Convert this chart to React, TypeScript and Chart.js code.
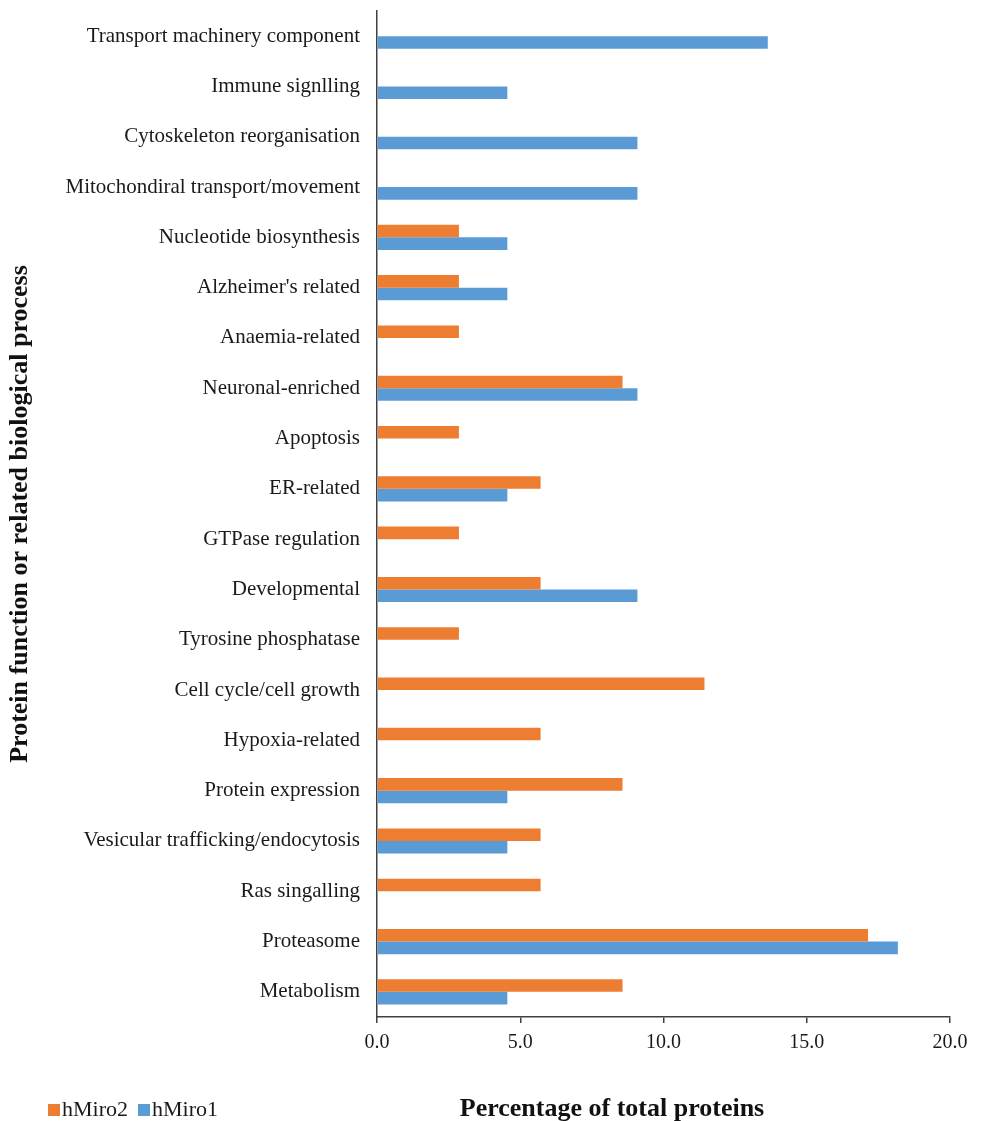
import React, { useEffect, useRef } from "react";
import { Chart, registerables } from "chart.js";

Chart.register(...registerables);

const categories = [
  "Transport machinery component",
  "Immune signlling",
  "Cytoskeleton reorganisation",
  "Mitochondiral transport/movement",
  "Nucleotide biosynthesis",
  "Alzheimer's related",
  "Anaemia-related",
  "Neuronal-enriched",
  "Apoptosis",
  "ER-related",
  "GTPase regulation",
  "Developmental",
  "Tyrosine phosphatase",
  "Cell cycle/cell growth",
  "Hypoxia-related",
  "Protein expression",
  "Vesicular trafficking/endocytosis",
  "Ras singalling",
  "Proteasome",
  "Metabolism",
];

const hMiro2 = [0, 0, 0, 0, 2.86, 2.86, 2.86, 8.57, 2.86, 5.71, 2.86, 5.71, 2.86, 11.43, 5.71, 8.57, 5.71, 5.71, 17.14, 8.57];
const hMiro1 = [13.64, 4.55, 9.09, 9.09, 4.55, 4.55, 0, 9.09, 0, 4.55, 0, 9.09, 0, 0, 0, 4.55, 4.55, 0, 18.18, 4.55];

const seriesNames = ["hMiro2", "hMiro1"];
const seriesColors = ["#ED7D31", "#5B9BD5"];
const xTicks = [0, 5, 10, 15, 20];

const xTitle = "Percentage of total proteins";
const yTitle = "Protein function or related biological process";

const FONT = "'Liberation Serif', 'Times New Roman', serif";

const bottomPlugin = {
  id: "bottomLegendTitle",
  afterDraw(chart: any) {
    const ctx = chart.ctx;
    ctx.save();
    // legend
    ctx.font = `22px ${FONT}`;
    ctx.textBaseline = "middle";
    ctx.textAlign = "left";
    let x = 48;
    const cy = 1110;
    chart.data.datasets.forEach((ds: any) => {
      ctx.fillStyle = ds.backgroundColor;
      ctx.fillRect(x, cy - 6, 12, 12);
      x += 14;
      ctx.fillStyle = "#1a1a1a";
      ctx.fillText(ds.label, x, cy);
      x += ctx.measureText(ds.label).width + 10;
    });
    // x title
    ctx.font = `bold 26px ${FONT}`;
    ctx.textAlign = "center";
    ctx.textBaseline = "alphabetic";
    ctx.fillStyle = "#111";
    ctx.fillText(xTitle, 612, 1116);
    ctx.restore();
  },
};

export default function App() {
  const ref = useRef<HTMLCanvasElement | null>(null);

  useEffect(() => {
    if (!ref.current) return;
    const chart = new Chart(ref.current, {
      type: "bar",
      data: {
        labels: categories,
        datasets: [
          { label: seriesNames[0], data: hMiro2, backgroundColor: seriesColors[0], borderWidth: 0 },
          { label: seriesNames[1], data: hMiro1, backgroundColor: seriesColors[1], borderWidth: 0 },
        ],
      },
      options: {
        indexAxis: "y",
        responsive: false,
        animation: false,
        devicePixelRatio: 1,
        layout: { padding: { left: 5, right: 31, top: 11, bottom: 0 } },
        datasets: { bar: { categoryPercentage: 0.5, barPercentage: 1.0 } },
        plugins: {
          legend: { display: false },
          tooltip: { enabled: false },
          title: { display: false },
        },
        scales: {
          x: {
            min: 0,
            max: 20,
            afterBuildTicks: (s: any) => {
              s.ticks = xTicks.map((v) => ({ value: v }));
            },
            afterFit: (s: any) => {
              s.height = 104;
            },
            grid: {
              display: true,
              drawOnChartArea: false,
              drawTicks: true,
              tickLength: 6,
              color: "#404040",
              lineWidth: 1.5,
            },
            border: { display: true, color: "#404040", width: 1.5 },
            ticks: {
              padding: 8,
              color: "#1a1a1a",
              font: { family: FONT, size: 20 },
              callback: (v: any) => Number(v).toFixed(1),
            },
          },
          y: {
            afterFit: (s: any) => {
              s.width = 372;
              s.paddingTop = 0;
              s.paddingBottom = 0;
            },
            grid: { display: false, drawTicks: false },
            border: { display: true, color: "#404040", width: 1.5 },
            ticks: {
              padding: 17,
              color: "#1a1a1a",
              font: { family: FONT, size: 21 },
              autoSkip: false,
            },
            title: {
              display: true,
              text: yTitle,
              color: "#111",
              padding: 0,
              font: { family: FONT, size: 26, weight: "bold" },
            },
          },
        },
      },
      plugins: [bottomPlugin],
    } as any);
    return () => chart.destroy();
  }, []);

  return (
    <div style={{ position: "absolute", left: 0, top: 0, width: 981, height: 1121, background: "#fff" }}>
      <canvas ref={ref} width={981} height={1121} style={{ display: "block" }} />
    </div>
  );
}
